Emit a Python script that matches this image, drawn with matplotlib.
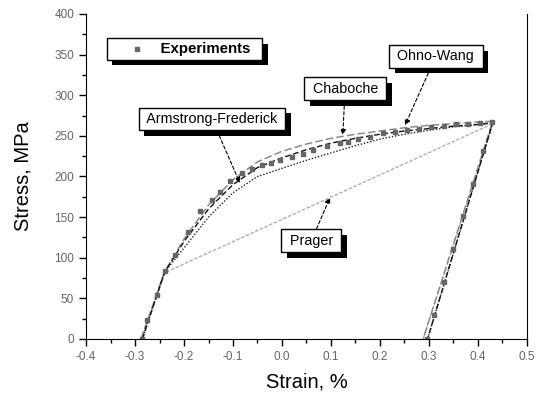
import numpy as np
import matplotlib.pyplot as plt
import matplotlib.patheffects as pe
from matplotlib.ticker import MultipleLocator

plt.rcParams['font.family'] = ['Liberation Sans', 'DejaVu Sans']

# Experimental data (strain %, stress MPa)
exp_strain = [-0.285, -0.276, -0.256, -0.239, -0.218, -0.192, -0.167, -0.143, -0.127,
              -0.106, -0.082, -0.062, -0.041, -0.022, -0.004, 0.020, 0.043, 0.064,
              0.091, 0.118, 0.135, 0.155, 0.180, 0.206, 0.230, 0.255, 0.280, 0.305,
              0.330, 0.355, 0.380, 0.405, 0.428,
              0.410, 0.390, 0.370, 0.350, 0.330, 0.310, 0.295]
exp_stress = [0, 23, 54, 84, 103, 132, 157, 171, 181,
              194, 204, 209, 214, 217, 220, 224, 228, 232,
              237, 241, 243, 246, 249, 253, 255, 257, 259, 261,
              262, 264, 265, 266, 267,
              231, 191, 151, 111, 70, 30, 0]

# Model predictions
cha_strain = [-0.288, -0.24, -0.2, -0.15, -0.1, -0.05, 0.0, 0.05, 0.1, 0.15, 0.2, 0.25, 0.3, 0.35, 0.4, 0.43, 0.288]
cha_stress = [0, 82, 123, 165, 196, 218, 231, 240, 247, 252, 256, 260, 263, 265, 267, 268, 0]

ow_strain = [-0.285, -0.24, -0.2, -0.15, -0.1, -0.05, 0.0, 0.05, 0.1, 0.15, 0.2, 0.25, 0.3, 0.35, 0.4, 0.43, 0.297]
ow_stress = [0, 82, 120, 160, 190, 211, 223, 233, 241, 247, 252, 256, 259, 262, 264, 266, 0]

af_strain = [-0.285, -0.24, -0.2, -0.15, -0.1, -0.05, 0.0, 0.05, 0.1, 0.15, 0.2, 0.25, 0.3, 0.35, 0.4, 0.43, 0.297]
af_stress = [0, 82, 112, 150, 180, 200, 210, 220, 229, 238, 246, 252, 257, 261, 264, 266, 0]

pr_strain = [-0.288, -0.238, 0.43, 0.288]
pr_stress = [0, 82, 265, 0]

x_ticks = [-0.4, -0.3, -0.2, -0.1, 0.0, 0.1, 0.2, 0.3, 0.4, 0.5]
x_labels = ['-0.4', '-0.3', '-0.2', '-0.1', '0.0', '0.1', '0.2', '0.3', '0.4', '0.5']

fig = plt.figure(figsize=(5.43, 3.94), dpi=100)
ax = fig.add_axes([0.1584, 0.1396, 0.8121, 0.8249])

ax.plot(pr_strain, pr_stress, color='#b0b0b0', lw=1, ls=(0, (2.5, 1.2)))
ax.plot(cha_strain, cha_stress, color='#8c8c8c', lw=1.1, ls=(0, (5, 2)))
ax.plot(af_strain, af_stress, color='#222222', lw=1, ls=(0, (1, 1.3)))
ax.plot(ow_strain, ow_stress, color='#111111', lw=1, ls=(0, (4, 2)))
ax.plot(exp_strain, exp_stress, ls='none', marker='s', ms=2.6, color='#666666')

ax.set_xlim(-0.4, 0.5)
ax.set_ylim(0, 400)
ax.set_xticks(x_ticks)
ax.set_xticklabels(x_labels)
ax.xaxis.set_minor_locator(MultipleLocator(0.05))
ax.yaxis.set_major_locator(MultipleLocator(50))
ax.yaxis.set_minor_locator(MultipleLocator(25))
ax.tick_params(which='major', length=5, width=1, labelsize=8.5, labelcolor='#666666', direction='out')
ax.tick_params(which='minor', length=3, width=1, direction='out')
ax.spines['top'].set_visible(False)

ax.set_xlabel('Strain, %', fontsize=14.5, labelpad=7)
ax.set_ylabel('Stress, MPa', fontsize=14.5, labelpad=16)

shadow = [pe.withSimplePatchShadow(offset=(4, -4), shadow_rgbFace='black', alpha=1)]
box = dict(boxstyle='square,pad=0.3', fc='white', ec='black', lw=1)
arrow = dict(arrowstyle='-|>', ls=(0, (3, 2)), color='black', lw=0.8, mutation_scale=8, shrinkA=0, shrinkB=0)

t = ax.text(-0.199, 357, '            Experiments  ', fontsize=10.8, fontweight='bold',
            ha='center', va='center', bbox=dict(boxstyle='square,pad=0.25', fc='white', ec='black', lw=1))
t.get_bbox_patch().set_path_effects(shadow)
ax.plot([-0.296], [357], ls='none', marker='s', ms=2.6, color='#666666', zorder=5)

labels = [('Armstrong-Frederick', (-0.086, 192), (-0.143, 271)),
          ('Chaboche', (0.124, 251), (0.129, 308)),
          ('Ohno-Wang', (0.251, 263), (0.314, 348)),
          ('Prager', (0.098, 174), (0.060, 121))]
for name, tip, pos in labels:
    a = ax.annotate(' ' + name + ' ', xy=tip, xytext=pos, fontsize=10.3, ha='center', va='center',
                    bbox=box, arrowprops=arrow)
    a.get_bbox_patch().set_path_effects(shadow)

fig.savefig('out.png', dpi=100)
